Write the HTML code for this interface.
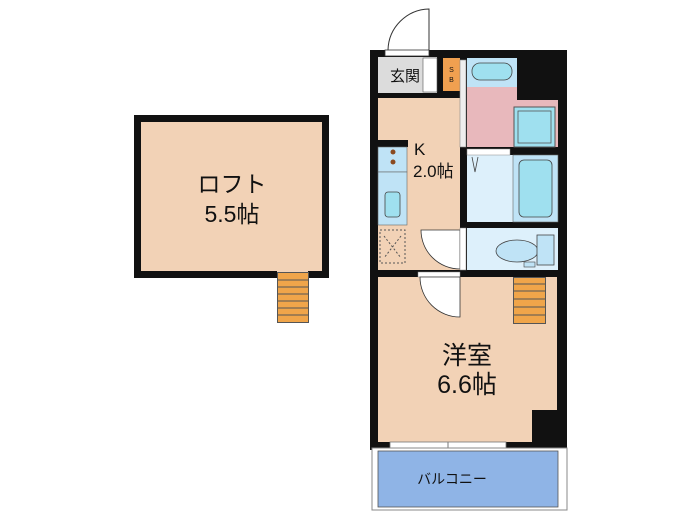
<!DOCTYPE html>
<html><head><meta charset="utf-8"><style>
body{margin:0;background:#fff;width:700px;height:525px;overflow:hidden}
text{font-family:"Liberation Sans","Noto Sans CJK JP",sans-serif;fill:#111}
</style></head><body>
<svg width="700" height="525" viewBox="0 0 700 525" xmlns="http://www.w3.org/2000/svg">
<!-- Loft -->
<rect x="134" y="115" width="195" height="163" fill="#111"/>
<rect x="141" y="122" width="181" height="149" fill="#f2d2b6"/>
<rect x="277" y="271" width="31" height="8" fill="#f2d2b6"/>
<g fill="#f0a54a" stroke="#555" stroke-width="1">
<rect x="277.5" y="272.5" width="31" height="50"/>
</g>
<g stroke="#555" stroke-width="1">
<line x1="277" y1="280" x2="308" y2="280"/><line x1="277" y1="287" x2="308" y2="287"/>
<line x1="277" y1="294" x2="308" y2="294"/><line x1="277" y1="301" x2="308" y2="301"/>
<line x1="277" y1="308" x2="308" y2="308"/><line x1="277" y1="315" x2="308" y2="315"/>
</g>
<text x="232" y="192" font-size="23" text-anchor="middle">ロフト</text>
<text x="232" y="222" font-size="23" text-anchor="middle">5.5帖</text>

<!-- Main unit outer -->
<rect x="370" y="50" width="197" height="400" fill="#111"/>
<path d="M388 50 A42 42 0 0 1 429 9 L429 50" fill="#fff" stroke="#333" stroke-width="1"/>
<rect x="385" y="50" width="44" height="6" fill="#fff" stroke="#333" stroke-width="0.8"/>
<rect x="378" y="57" width="59" height="36" fill="#dcdcdc"/>
<rect x="423" y="58" width="14" height="34" fill="#fff" stroke="#555" stroke-width="0.6"/>
<rect x="443" y="58" width="17" height="33" fill="#f0a050"/>
<text x="451.5" y="72" font-size="7" text-anchor="middle">S</text>
<text x="451.5" y="82" font-size="7" text-anchor="middle">B</text>
<text x="405" y="81" font-size="15" text-anchor="middle">玄関</text>
<rect x="378" y="98" width="82" height="172" fill="#f2d2b6"/>
<rect x="460" y="60" width="6" height="87" fill="#eee" stroke="#888" stroke-width="0.6"/>
<rect x="378" y="140" width="30" height="7" fill="#111"/>
<rect x="378" y="147" width="29" height="25" fill="#bfe3f6" stroke="#666" stroke-width="0.6"/>
<circle cx="393" cy="152" r="2.5" fill="#8a4a20"/><circle cx="393" cy="162" r="2.5" fill="#8a4a20"/>
<rect x="378" y="172" width="29" height="53" fill="#bfe3f6" stroke="#666" stroke-width="0.6"/>
<rect x="385" y="192" width="15" height="25" rx="3" fill="#9fe0ef" stroke="#444" stroke-width="0.8"/>
<rect x="380" y="230" width="25" height="33" fill="none" stroke="#555" stroke-dasharray="2,2"/>
<line x1="384" y1="236" x2="401" y2="258" stroke="#555" stroke-dasharray="2,2"/>
<line x1="401" y1="236" x2="384" y2="258" stroke="#555" stroke-dasharray="2,2"/>
<path d="M460 230 L421 230 A39 39 0 0 0 460 269 Z" fill="#fff" stroke="#333" stroke-width="0.8"/>
<text x="414" y="155" font-size="17">K</text>
<text x="413" y="177" font-size="17">2.0帖</text>
<rect x="467" y="58" width="50" height="29" fill="#bfe3f6"/>
<rect x="472" y="63" width="40" height="17" rx="8" fill="#9fe0ef" stroke="#444" stroke-width="0.8"/>
<rect x="467" y="87" width="91" height="60" fill="#e8b8bc"/>
<rect x="517" y="52" width="41" height="48" fill="#111"/>
<rect x="514" y="107" width="41" height="40" fill="#9fe0ef" stroke="#555" stroke-width="1"/>
<rect x="518" y="111" width="33" height="32" fill="none" stroke="#555" stroke-width="0.8"/>
<rect x="467" y="155" width="91" height="67" fill="#ddf0fb"/>
<rect x="467" y="149" width="43" height="6" fill="#fff" stroke="#888" stroke-width="0.5"/>
<path d="M472 157 L475 172 L478 157" fill="none" stroke="#444" stroke-width="0.8"/>
<rect x="513" y="155" width="45" height="67" fill="#bfe3f6" stroke="#666" stroke-width="0.6"/>
<rect x="519" y="160" width="33" height="57" rx="5" fill="#9fe0ef" stroke="#444" stroke-width="0.8"/>
<rect x="467" y="228" width="91" height="42" fill="#ddf0fb"/>
<rect x="460" y="228" width="6" height="42" fill="#fff" stroke="#888" stroke-width="0.5"/>
<ellipse cx="517" cy="251" rx="21" ry="11" fill="#bfe3f6" stroke="#444" stroke-width="0.8"/>
<rect x="537" y="235" width="17" height="30" fill="#bfe3f6" stroke="#444" stroke-width="0.8"/>
<rect x="524" y="262" width="11" height="5" fill="#bfe3f6" stroke="#444" stroke-width="0.6"/>
<rect x="378" y="277" width="179" height="165" fill="#f2d2b6"/>
<rect x="532" y="410" width="25" height="32" fill="#111"/>
<rect x="418" y="272" width="42" height="5" fill="#fff" stroke="#888" stroke-width="0.5"/>
<path d="M420 277 A40 40 0 0 0 460 317 L460 277 Z" fill="#fff" stroke="#333" stroke-width="0.8"/>
<rect x="513.5" y="277.5" width="32" height="46" fill="#f0a54a" stroke="#555" stroke-width="1"/>
<g stroke="#555" stroke-width="1">
<line x1="513" y1="284" x2="546" y2="284"/><line x1="513" y1="291" x2="546" y2="291"/>
<line x1="513" y1="299" x2="546" y2="299"/><line x1="513" y1="307" x2="546" y2="307"/>
<line x1="513" y1="315" x2="546" y2="315"/>
</g>
<text x="467" y="364" font-size="25" text-anchor="middle">洋室</text>
<text x="467" y="393" font-size="25" text-anchor="middle">6.6帖</text>
<rect x="390" y="442" width="116" height="6" fill="#fff" stroke="#777" stroke-width="0.8"/>
<line x1="448" y1="442" x2="448" y2="448" stroke="#777"/>
<rect x="372" y="448" width="195" height="62" fill="#fff" stroke="#888" stroke-width="1"/>
<rect x="378" y="451" width="180" height="56" fill="#8fb4e6" stroke="#555" stroke-width="0.8"/>
<text x="452" y="484" font-size="14" text-anchor="middle">バルコニー</text>
</svg>
</body></html>
